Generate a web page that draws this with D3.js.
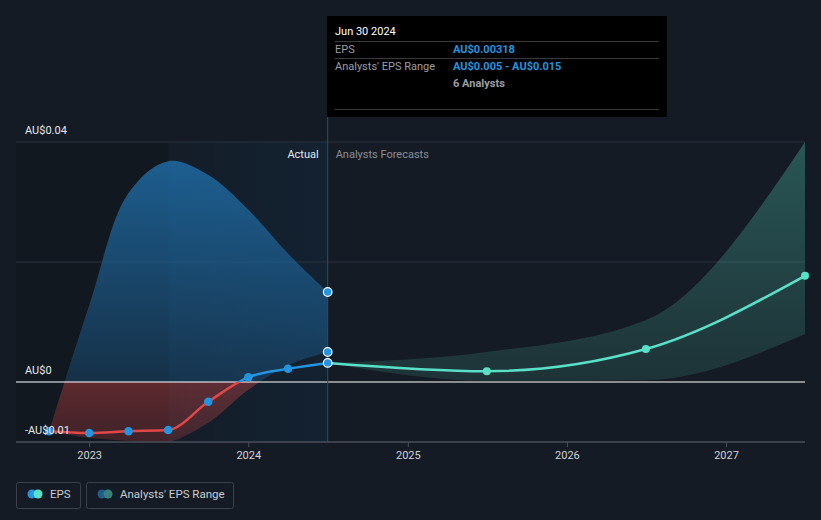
<!DOCTYPE html>
<html><head><meta charset="utf-8">
<script src="https://cdn.jsdelivr.net/npm/d3@7"></script>
<style>body{margin:0;background:#151b24;}svg{display:block;font-family:Roboto,"Noto Sans",sans-serif;}</style>
</head><body>
<script>
// ---- data ----
const actualDates = ["2022-09-30","2022-12-31","2023-03-31","2023-06-30","2023-09-30","2023-12-31","2024-03-31","2024-06-30"];
const actualEps   = [-0.0082,-0.0085,-0.0082,-0.0080,-0.0033,0.0008,0.0022,0.00318];
const pastLow     = [-0.0082,-0.0093,-0.0098,-0.0100,-0.0068,-0.0013,0.0028,0.005];
const pastHigh    = [-0.0082,0.0128,0.0315,0.0368,0.0345,0.0287,0.0214,0.015];
const fcDates     = ["2024-06-30","2025-06-30","2026-06-30","2027-06-30"];
const fcEps       = [0.00318,0.0018,0.0055,0.0177];
const fcLow       = [0.00318,0.0002,0.0003,0.0080];
const fcHigh      = [0.00318,0.0050,0.0103,0.0400];
const yTickVals   = [0.04,0,-0.01];
const yTickLabels = ["AU$0.04","AU$0","-AU$0.01"];
const xTickYears  = [2023,2024,2025,2026,2027];

const W=821,H=520;
const parse=d3.timeParse("%Y-%m-%d");
const x=d3.scaleTime().domain([new Date(2022,6,16),new Date(2027,5,30)]).range([16,805]);
const y=d3.scaleLinear().domain([-0.01,0.04]).range([442,142]);
const svg=d3.select("body").append("svg").attr("width",W).attr("height",H);
const defs=svg.append("defs");

const past=actualDates.map((d,i)=>({d:parse(d),v:actualEps[i],lo:pastLow[i],hi:pastHigh[i]}));
const fc=fcDates.map((d,i)=>({d:parse(d),v:fcEps[i],lo:fcLow[i],hi:fcHigh[i]}));
const divX=x(parse("2024-06-30"));
const yearAgoX=x(parse("2023-06-30"));
const plotTop=y(0.04), plotBot=y(-0.01);

// background regions
svg.append("rect").attr("x",16).attr("y",plotTop).attr("width",yearAgoX-16).attr("height",plotBot-plotTop).attr("fill","rgba(0,0,0,0.1)");
const hg=defs.append("linearGradient").attr("id","hl").attr("x1",0).attr("x2",1).attr("y1",0).attr("y2",0);
hg.append("stop").attr("offset","0").attr("stop-color","#0a3c64").attr("stop-opacity",0.06);
hg.append("stop").attr("offset","1").attr("stop-color","#0a3c64").attr("stop-opacity",0.2);
svg.append("rect").attr("x",yearAgoX).attr("y",plotTop).attr("width",divX-yearAgoX).attr("height",plotBot-plotTop).attr("fill","url(#hl)");

// gridlines
[0.04,0.02].forEach(v=>svg.append("line").attr("x1",16).attr("x2",805).attr("y1",y(v)).attr("y2",y(v)).attr("stroke","#2c333e").attr("stroke-width",1));

// clip paths above / below zero (within plot)
defs.append("clipPath").attr("id","above").append("rect").attr("x",0).attr("y",plotTop-20).attr("width",W).attr("height",y(0)-plotTop+20);
defs.append("clipPath").attr("id","below").append("rect").attr("x",0).attr("y",y(0)).attr("width",W).attr("height",plotBot-y(0));

// gradients
const bg=defs.append("linearGradient").attr("id","blueFill").attr("gradientUnits","userSpaceOnUse").attr("x1",0).attr("x2",0).attr("y1",y(0.037)).attr("y2",y(0));
bg.append("stop").attr("offset","0").attr("stop-color","#1f6aa3").attr("stop-opacity",0.85);
bg.append("stop").attr("offset","1").attr("stop-color","#1f6aa3").attr("stop-opacity",0.3);
const rg=defs.append("linearGradient").attr("id","redFill").attr("gradientUnits","userSpaceOnUse").attr("x1",0).attr("x2",0).attr("y1",y(0)).attr("y2",y(-0.01));
rg.append("stop").attr("offset","0").attr("stop-color","#e04848").attr("stop-opacity",0.36);
rg.append("stop").attr("offset","1").attr("stop-color","#e04848").attr("stop-opacity",0.22);
const tg=defs.append("linearGradient").attr("id","tealFill").attr("gradientUnits","userSpaceOnUse").attr("x1",0).attr("x2",0).attr("y1",y(0.04)).attr("y2",y(0));
tg.append("stop").attr("offset","0").attr("stop-color","#59e0c8").attr("stop-opacity",0.3);
tg.append("stop").attr("offset","1").attr("stop-color","#59e0c8").attr("stop-opacity",0.12);

const pastArea=d3.area().x(d=>x(d.d)).y0(d=>y(d.lo)).y1(d=>y(d.hi)).curve(d3.curveCatmullRom.alpha(0.5));
const area=d3.area().x(d=>x(d.d)).y0(d=>y(d.lo)).y1(d=>y(d.hi)).curve(d3.curveMonotoneX);
const line=d3.line().x(d=>x(d.d)).y(d=>y(d.v)).curve(d3.curveMonotoneX);

// past range
svg.append("path").datum(past).attr("d",pastArea).attr("fill","url(#blueFill)").attr("clip-path","url(#above)");
svg.append("path").datum(past).attr("d",pastArea).attr("fill","url(#redFill)").attr("clip-path","url(#below)");
// forecast range
svg.append("path").datum(fc).attr("d",area).attr("fill","url(#tealFill)");

// zero line
svg.append("line").attr("x1",16).attr("x2",805).attr("y1",y(0)).attr("y2",y(0)).attr("stroke","#ffffff").attr("stroke-width",1.2);

// divider
svg.append("line").attr("x1",divX).attr("x2",divX).attr("y1",117).attr("y2",442).attr("stroke","#24506f").attr("stroke-width",1);

// lines
svg.append("path").datum(past).attr("d",line).attr("fill","none").attr("stroke","#2394df").attr("stroke-width",2.5).attr("clip-path","url(#above)");
svg.append("path").datum(past).attr("d",line).attr("fill","none").attr("stroke","#e04848").attr("stroke-width",2.5).attr("clip-path","url(#below)");
svg.append("path").datum(fc).attr("d",line).attr("fill","none").attr("stroke","#59e0c8").attr("stroke-width",2.5);

// markers
svg.selectAll(".pm").data(past.slice(0,-1)).enter().append("circle").attr("cx",d=>x(d.d)).attr("cy",d=>y(d.v)).attr("r",4.3).attr("fill","#2394df");
svg.selectAll(".fm").data(fc.slice(1)).enter().append("circle").attr("cx",d=>x(d.d)).attr("cy",d=>y(d.v)).attr("r",4).attr("fill","#59e0c8");
const last=past[past.length-1];
[last.hi,last.lo,last.v].forEach(v=>svg.append("circle").attr("cx",x(last.d)).attr("cy",y(v)).attr("r",4.3).attr("fill","#2394df").attr("stroke","#ffffff").attr("stroke-width",1.2));

// x axis
svg.append("line").attr("x1",16).attr("x2",805).attr("y1",442).attr("y2",442).attr("stroke","#4a4f58").attr("stroke-width",1.5);
const xa=svg.append("g");
xTickYears.forEach(yr=>{
  const px=x(new Date(yr,0,1));
  xa.append("line").attr("x1",px).attr("x2",px).attr("y1",442).attr("y2",447).attr("stroke","#4a4f58");
  xa.append("text").attr("x",px).attr("y",459).attr("text-anchor","middle").attr("fill","#d0d3d8").attr("font-size",11).text(yr);
});
// y labels
yTickVals.forEach((v,i)=>svg.append("text").attr("x",25).attr("y",y(v)-8).attr("fill","#e6e8eb").attr("font-size",11).text(yTickLabels[i]));

// Actual / forecasts
svg.append("text").attr("x",divX-9).attr("y",158).attr("text-anchor","end").attr("fill","#e6e8eb").attr("font-size",11).text("Actual");
svg.append("text").attr("x",divX+8).attr("y",158).attr("fill","#8a8f98").attr("font-size",11).text("Analysts Forecasts");

// tooltip
const tt=svg.append("g");
tt.append("rect").attr("x",327).attr("y",16).attr("width",340).attr("height",101).attr("fill","#000");
[41.5,58.5,109.5].forEach(ly=>tt.append("line").attr("x1",335).attr("x2",659).attr("y1",ly).attr("y2",ly).attr("stroke","#3a3a3a"));
tt.append("text").attr("x",335).attr("y",35).attr("fill","#fff").attr("font-size",11).text("Jun 30 2024");
tt.append("text").attr("x",335).attr("y",53).attr("fill","#9a9ea5").attr("font-size",11).text("EPS");
tt.append("text").attr("x",453).attr("y",53).attr("fill","#2394df").attr("font-size",11).attr("font-weight","bold").text("AU$0.00318");
tt.append("text").attr("x",335).attr("y",70).attr("fill","#9a9ea5").attr("font-size",11).text("Analysts' EPS Range");
tt.append("text").attr("x",453).attr("y",70).attr("fill","#2394df").attr("font-size",11).attr("font-weight","bold").text("AU$0.005 - AU$0.015");
tt.append("text").attr("x",453).attr("y",87).attr("fill","#9a9ea5").attr("font-size",11).attr("font-weight","bold").text("6 Analysts");

// legend
const lg=svg.append("g");
lg.append("rect").attr("x",16.5).attr("y",482.5).attr("width",64).attr("height",26).attr("rx",2).attr("fill","none").attr("stroke","#3b404a");
lg.append("circle").attr("cx",32).attr("cy",494).attr("r",4.5).attr("fill","#2394df");
lg.append("circle").attr("cx",38).attr("cy",494).attr("r",4.5).attr("fill","#59e0c8");
lg.append("text").attr("x",50).attr("y",498).attr("fill","#c8ccd2").attr("font-size",11.5).text("EPS");
lg.append("rect").attr("x",86.5).attr("y",482.5).attr("width",147).attr("height",26).attr("rx",2).attr("fill","none").attr("stroke","#3b404a");
lg.append("circle").attr("cx",102).attr("cy",494).attr("r",4.5).attr("fill","#1d5c8c");
lg.append("circle").attr("cx",108).attr("cy",494).attr("r",4.5).attr("fill","#3a7f7a");
lg.append("text").attr("x",120).attr("y",498).attr("fill","#c8ccd2").attr("font-size",11.5).text("Analysts' EPS Range");
</script>
</body></html>
